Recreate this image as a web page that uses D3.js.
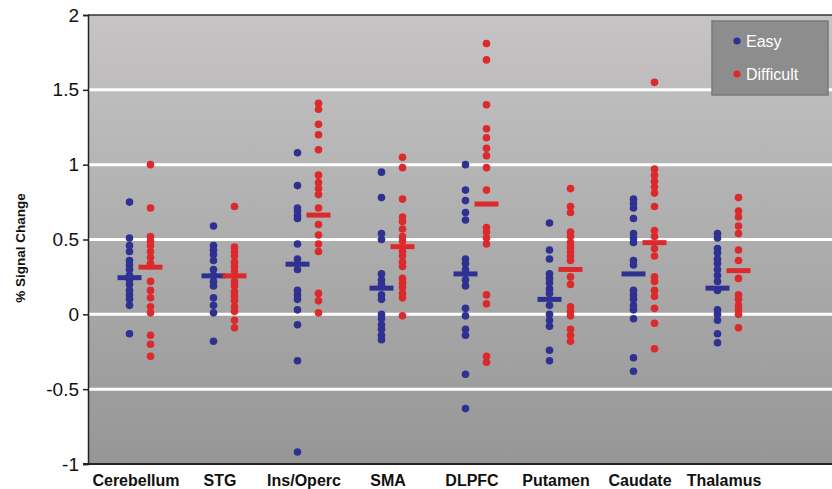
<!DOCTYPE html>
<html>
<head>
<meta charset="utf-8">
<script src="https://cdn.jsdelivr.net/npm/d3@7"></script>
<style>
  body { margin: 0; background: #fff; }
  text { font-family: "Liberation Sans", Arial, sans-serif; }
</style>
</head>
<body>
<svg id="base" width="832" height="489"></svg>
<script>
const categories = ["Cerebellum", "STG", "Ins/Operc", "SMA", "DLPFC", "Putamen", "Caudate", "Thalamus"];

// individual subjects, easy condition
const easyValues = [
    [0.75, 0.51, 0.46, 0.42, 0.36, 0.33, 0.30, 0.26, 0.23, 0.20, 0.16, 0.13, 0.10, 0.06, -0.13],
    [0.59, 0.46, 0.43, 0.40, 0.36, 0.30, 0.26, 0.22, 0.19, 0.11, 0.06, 0.01, -0.18],
    [1.08, 0.86, 0.71, 0.69, 0.66, 0.64, 0.47, 0.37, 0.30, 0.16, 0.13, 0.10, 0.03, -0.07, -0.31, -0.92],
    [0.95, 0.78, 0.54, 0.50, 0.27, 0.23, 0.20, 0.13, 0.10, 0.00, -0.03, -0.07, -0.10, -0.14, -0.17],
    [1.00, 0.83, 0.76, 0.68, 0.63, 0.37, 0.34, 0.30, 0.23, 0.19, 0.04, -0.01, -0.10, -0.14, -0.40, -0.63],
    [0.61, 0.43, 0.37, 0.27, 0.24, 0.21, 0.17, 0.14, 0.06, 0.00, -0.04, -0.08, -0.24, -0.31],
    [0.77, 0.74, 0.71, 0.64, 0.54, 0.51, 0.48, 0.36, 0.33, 0.16, 0.13, 0.10, 0.06, 0.03, -0.03, -0.29, -0.38],
    [0.54, 0.51, 0.44, 0.41, 0.37, 0.34, 0.30, 0.26, 0.22, 0.16, 0.03, 0.00, -0.04, -0.13, -0.19]
];

// individual subjects, difficult condition
const diffValues = [
    [1.00, 0.71, 0.52, 0.49, 0.46, 0.42, 0.38, 0.34, 0.22, 0.16, 0.11, 0.05, 0.01, -0.14, -0.20, -0.28],
    [0.72, 0.45, 0.42, 0.39, 0.35, 0.32, 0.29, 0.22, 0.19, 0.15, 0.12, 0.09, 0.05, 0.02, -0.04, -0.09],
    [1.41, 1.37, 1.27, 1.20, 1.10, 0.93, 0.88, 0.84, 0.80, 0.71, 0.60, 0.53, 0.47, 0.42, 0.14, 0.09, 0.01],
    [1.05, 0.98, 0.77, 0.65, 0.62, 0.57, 0.52, 0.49, 0.42, 0.39, 0.35, 0.32, 0.24, 0.21, 0.18, 0.14, 0.11, -0.01],
    [1.81, 1.70, 1.40, 1.24, 1.18, 1.11, 1.06, 0.98, 0.83, 0.58, 0.55, 0.51, 0.47, 0.13, 0.07, -0.28, -0.32],
    [0.84, 0.72, 0.68, 0.55, 0.52, 0.48, 0.45, 0.42, 0.39, 0.36, 0.25, 0.20, 0.05, 0.02, -0.01, -0.10, -0.14, -0.18],
    [1.55, 0.97, 0.93, 0.89, 0.85, 0.81, 0.72, 0.56, 0.52, 0.44, 0.39, 0.25, 0.22, 0.16, 0.12, 0.04, -0.06, -0.23],
    [0.78, 0.69, 0.65, 0.59, 0.54, 0.43, 0.36, 0.24, 0.13, 0.10, 0.06, 0.03, 0.00, -0.09]
];

// group means shown as horizontal bars
const easyMeans = [0.245, 0.257, 0.335, 0.175, 0.27, 0.10, 0.27, 0.175];
const diffMeans = [0.315, 0.257, 0.663, 0.452, 0.737, 0.30, 0.479, 0.292];

const yTicks = [-1, -0.5, 0, 0.5, 1, 1.5, 2];
const seriesNames = ["Easy", "Difficult"];

const blue = "#2f3192";
const red = "#dc2a2c";

const svg = d3.select("#base");

const plotLeft = 88, plotRight = 832, plotTop = 15, plotBottom = 464;

const y = d3.scaleLinear().domain([-1, 2]).range([plotBottom, plotTop]);
const x = d3.scalePoint().domain(categories).range([140, 728]);
const off = 10.5;

// background gradient
const defs = svg.append("defs");
const grad = defs.append("linearGradient")
    .attr("id", "bg")
    .attr("x1", 0).attr("y1", 0).attr("x2", 0).attr("y2", 1);
grad.append("stop").attr("offset", "0%").attr("stop-color", "#c6c4c4");
grad.append("stop").attr("offset", "100%").attr("stop-color", "#969696");

svg.append("rect")
    .attr("x", plotLeft)
    .attr("y", plotTop)
    .attr("width", plotRight - plotLeft)
    .attr("height", plotBottom - plotTop)
    .attr("fill", "url(#bg)");

// gridlines
svg.append("g")
    .selectAll("line")
    .data(yTicks.filter((d) => d > -1 && d < 2))
    .enter()
    .append("line")
    .attr("x1", plotLeft)
    .attr("x2", plotRight)
    .attr("y1", (d) => y(d))
    .attr("y2", (d) => y(d))
    .attr("stroke", "#fff")
    .attr("stroke-width", 3);

// top border
svg.append("line")
    .attr("x1", plotLeft).attr("x2", plotRight)
    .attr("y1", plotTop).attr("y2", plotTop)
    .attr("stroke", "#333").attr("stroke-width", 1.5);

// y axis
const yAxis = svg.append("g")
    .attr("transform", `translate(${plotLeft},0)`)
    .call(d3.axisLeft(y).tickValues(yTicks).tickSize(5).tickFormat((d) => d));
yAxis.select(".domain").attr("stroke", "#222").attr("stroke-width", 1.5);
yAxis.selectAll(".tick line").attr("stroke", "#222").attr("stroke-width", 1.5);
yAxis.selectAll(".tick text")
    .attr("font-size", 19)
    .attr("fill", "#111")
    .attr("x", -9)
    .attr("font-family", "Liberation Sans, Arial, sans-serif");

// x axis baseline
svg.append("line")
    .attr("x1", 83).attr("x2", plotRight)
    .attr("y1", plotBottom).attr("y2", plotBottom)
    .attr("stroke", "#222").attr("stroke-width", 2);

// category labels
svg.append("g")
    .selectAll("text")
    .data(categories)
    .enter()
    .append("text")
    .attr("x", (d) => x(d) - 4)
    .attr("y", 486)
    .attr("text-anchor", "middle")
    .attr("font-size", 16)
    .attr("font-weight", "bold")
    .attr("fill", "#111")
    .text((d) => d);

// y title
svg.append("text")
    .attr("transform", "translate(25,248) rotate(-90)")
    .attr("text-anchor", "middle")
    .attr("font-size", 13.5)
    .attr("font-weight", "bold")
    .attr("fill", "#111")
    .text("% Signal Change");

// dots
function drawDots(values, dx, color) {
    const pts = [];
    values.forEach((arr, i) => arr.forEach((v) => pts.push({ c: categories[i], v: v })));
    svg.append("g")
        .selectAll("circle")
        .data(pts)
        .enter()
        .append("circle")
        .attr("cx", (d) => x(d.c) + dx)
        .attr("cy", (d) => y(d.v))
        .attr("r", 3.8)
        .attr("fill", color);
}
drawDots(easyValues, -off, blue);
drawDots(diffValues, off, red);

// means
function drawMeans(means, dx, color) {
    svg.append("g")
        .selectAll("rect")
        .data(means)
        .enter()
        .append("rect")
        .attr("x", (d, i) => x(categories[i]) + dx - 12)
        .attr("y", (d) => y(d) - 2.5)
        .attr("width", 24)
        .attr("height", 5)
        .attr("fill", color);
}
drawMeans(easyMeans, -off, blue);
drawMeans(diffMeans, off, red);

// legend
const legend = svg.append("g").attr("transform", "translate(712,21)");
legend.append("rect")
    .attr("width", 116)
    .attr("height", 74)
    .attr("fill", "#8d8d8d")
    .attr("stroke", "#7a7a7a")
    .attr("stroke-width", 1.5);
const items = legend.selectAll("g")
    .data(seriesNames)
    .enter()
    .append("g")
    .attr("transform", (d, i) => `translate(0,${20 + i * 33})`);
items.append("circle")
    .attr("cx", 25)
    .attr("cy", 0)
    .attr("r", 3.6)
    .attr("fill", (d, i) => (i === 0 ? blue : red));
items.append("text")
    .attr("x", 34)
    .attr("y", 6)
    .attr("font-size", 16)
    .attr("fill", "#fff")
    .text((d) => d);
</script>
</body>
</html>
